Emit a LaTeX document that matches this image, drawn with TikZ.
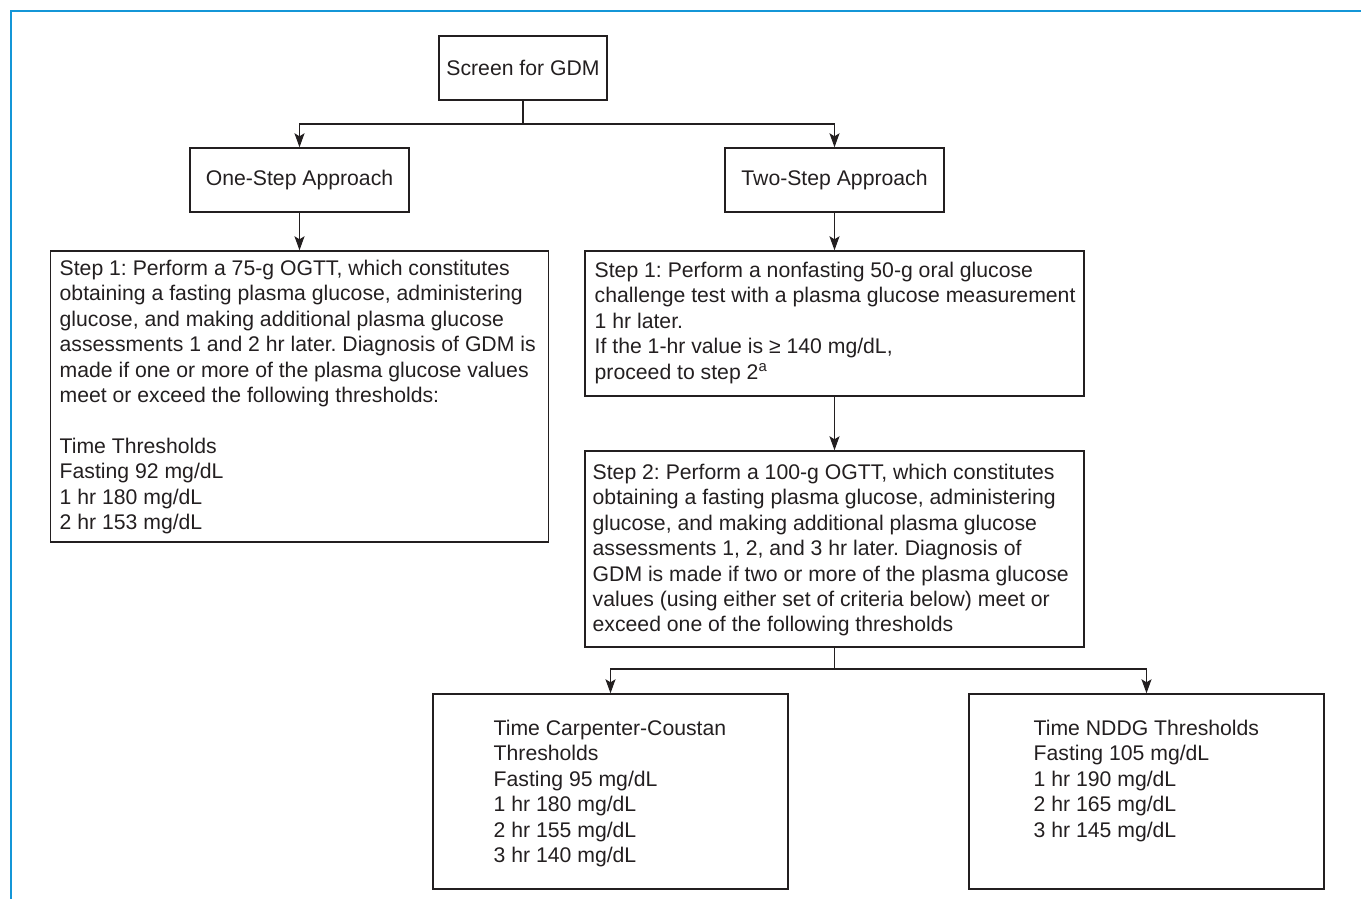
\documentclass[tikz,border=0pt]{standalone}
\usepackage{fontspec}
\setmainfont{Liberation Sans}
\usetikzlibrary{arrows.meta}
\definecolor{frameblue}{RGB}{20,150,215}
\definecolor{ink}{RGB}{35,31,32}
\frenchspacing

\begin{document}
\begin{tikzpicture}[x=0.5pt,y=-0.5pt,line width=0.7pt,
  font=\fontsize{10.6}{12.7}\selectfont,text=ink,
  box/.style={draw=ink,rectangle,inner sep=0pt},
  txt/.style={anchor=north west,align=left,inner sep=0pt},
  >={Stealth[length=7pt,width=5pt,inset=1.5pt]}]
\useasboundingbox (0,0) rectangle (1361,899);
\draw[frameblue,line width=1pt] (11,899) -- (11,11) -- (1361,11);

\coordinate (fork1) at (523,124);
\coordinate (fork2) at (834.5,669);

\node[box,minimum width=84pt,minimum height=32pt] (GDM) at (523,68) {Screen for GDM};
\node[box,minimum width=109.5pt,minimum height=32pt] (One) at (299.5,180) {One-Step Approach};
\node[box,minimum width=109.5pt,minimum height=32pt] (Two) at (834.5,180) {Two-Step Approach};
\node[box,minimum width=249pt,minimum height=145.5pt] (OneS1) at (299.5,396.5) {};
\node[box,minimum width=249.5pt,minimum height=72.5pt] (TwoS1) at (834.5,323.5) {};
\node[box,minimum width=249.5pt,minimum height=98pt] (TwoS2) at (834.5,549) {};
\node[box,minimum width=177.5pt,minimum height=97.5pt] (CC) at (610.5,791.5) {};
\node[box,minimum width=177.5pt,minimum height=97.5pt] (NDDG) at (1146.5,791.5) {};

\node[txt] (OneS1txt) at (59,259.5) {Step 1: Perform a 75-g OGTT, which constitutes\\
obtaining a fasting plasma glucose, administering\\
glucose, and making additional plasma glucose\\
assessments 1 and 2 hr later. Diagnosis of GDM is\\
made if one or more of the plasma glucose values\\
meet or exceed the following thresholds:\\[12.7pt]
Time Thresholds\\
Fasting 92 mg/dL\\
1 hr 180 mg/dL\\
2 hr 153 mg/dL};
\node[txt] (TwoS1txt) at (594,261.5) {Step 1: Perform a nonfasting 50-g oral glucose\\
challenge test with a plasma glucose measurement\\
1 hr later.\\
If the 1-hr value is ≥ 140 mg/dL,\\
proceed to step 2\textsuperscript{a}};
\node[txt] (TwoS2txt) at (592,463.5) {Step 2: Perform a 100-g OGTT, which constitutes\\
obtaining a fasting plasma glucose, administering\\
glucose, and making additional plasma glucose\\
assessments 1, 2, and 3 hr later. Diagnosis of\\
GDM is made if two or more of the plasma glucose\\
values (using either set of criteria below) meet or\\
exceed one of the following thresholds};
\node[txt] (CCtxt) at (493,719.5) {Time Carpenter-Coustan\\
Thresholds\\
Fasting 95 mg/dL\\
1 hr 180 mg/dL\\
2 hr 155 mg/dL\\
3 hr 140 mg/dL};
\node[txt] (NDDGtxt) at (1033,719.5) {Time NDDG Thresholds\\
Fasting 105 mg/dL\\
1 hr 190 mg/dL\\
2 hr 165 mg/dL\\
3 hr 145 mg/dL};

\draw[ink] (GDM.south) -- (fork1);
\draw[ink,->] (fork1) -| (One.north);
\draw[ink,->] (fork1) -| (Two.north);
\draw[ink,->] (One.south) -- (OneS1.north);
\draw[ink,->] (Two.south) -- (TwoS1.north);
\draw[ink,->] (TwoS1.south) -- (TwoS2.north);
\draw[ink] (TwoS2.south) -- (fork2);
\draw[ink,->] (fork2) -| (CC.north);
\draw[ink,->] (fork2) -| (NDDG.north);
\end{tikzpicture}
\end{document}
